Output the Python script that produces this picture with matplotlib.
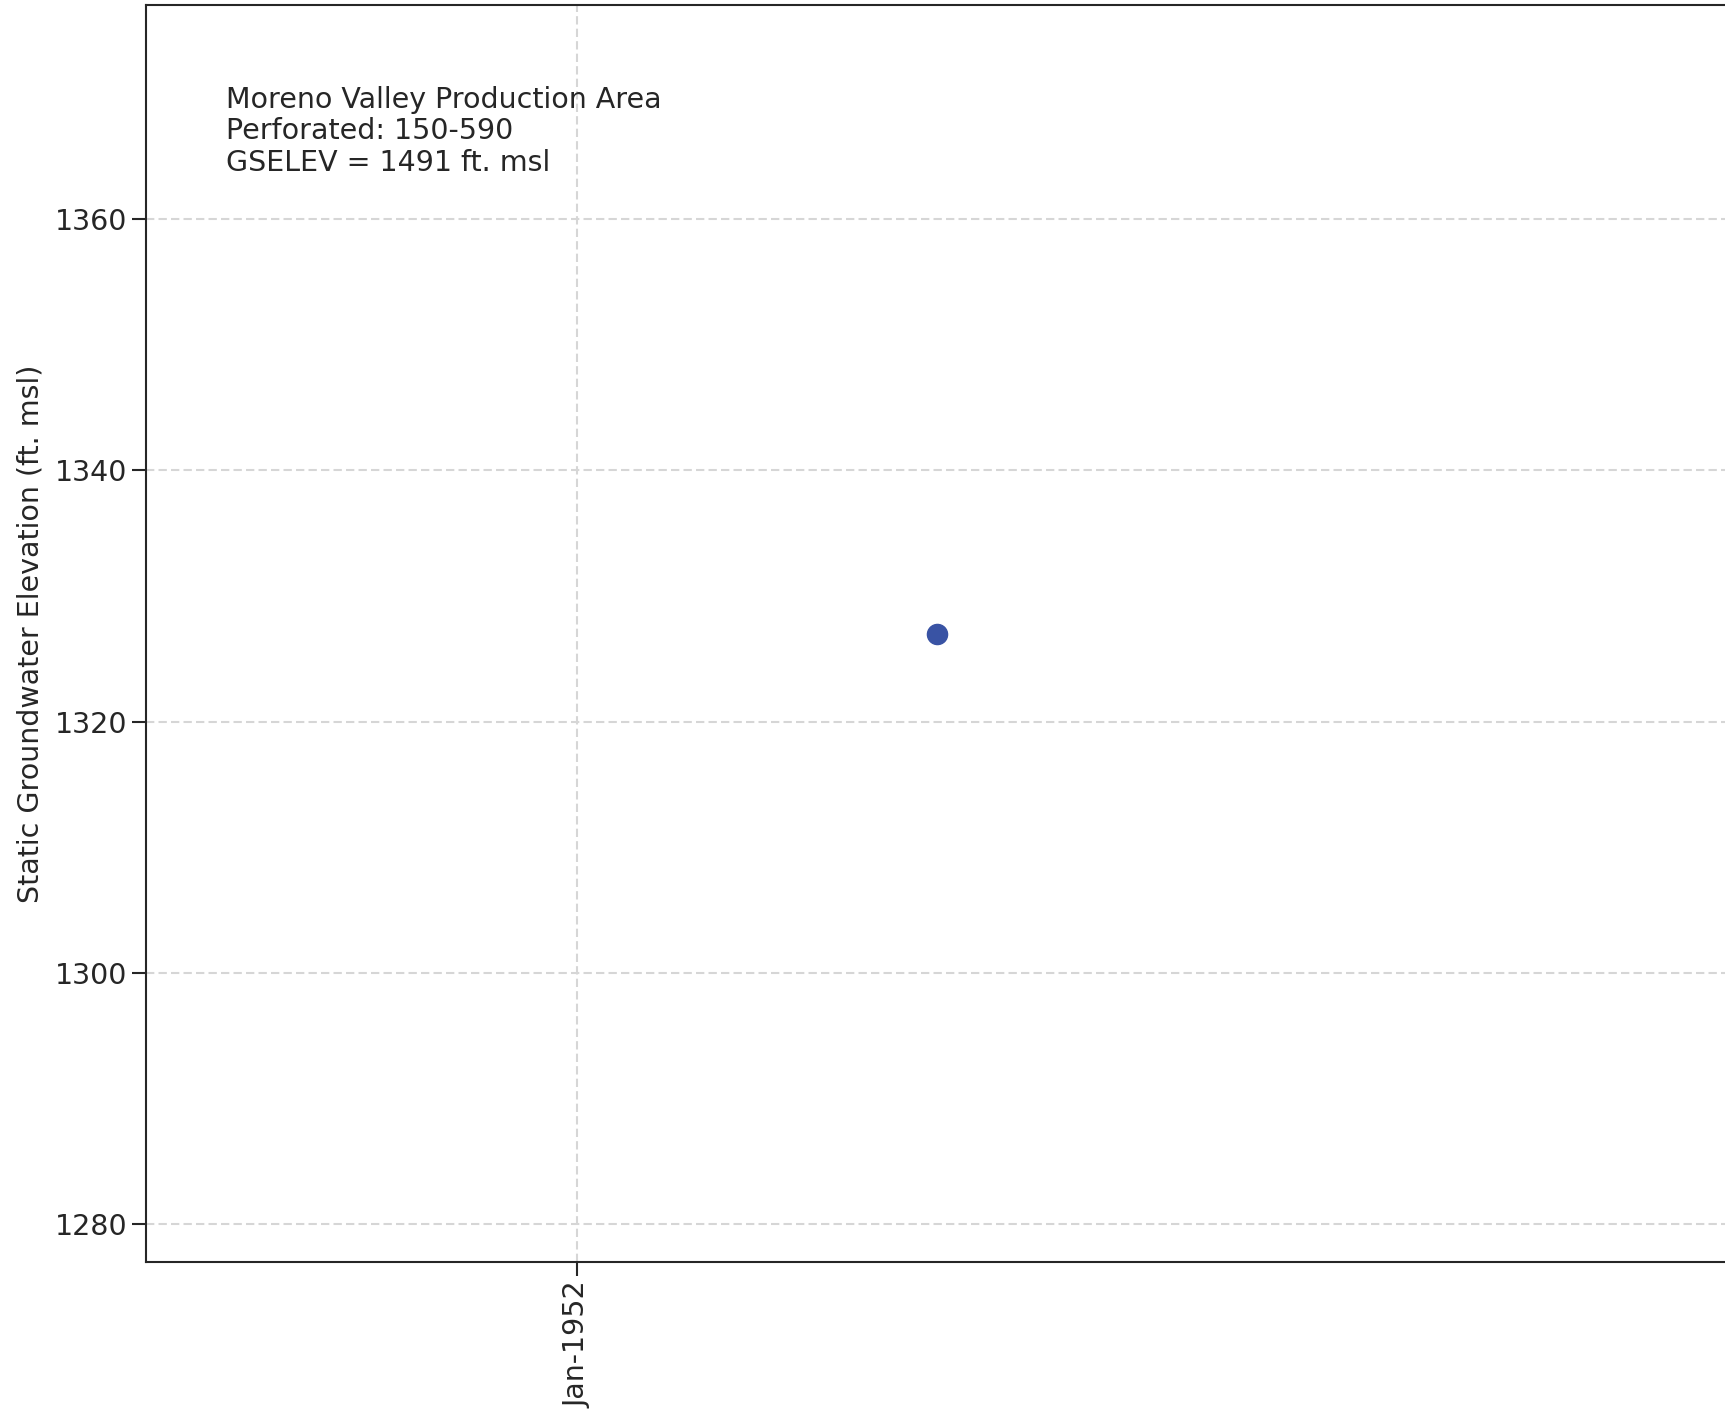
import matplotlib
matplotlib.use('Agg')
import matplotlib.pyplot as plt
import matplotlib.dates as mdates
import numpy as np
import datetime as dt

# single observation
dates = [dt.datetime(1952, 4, 15)]
elev = [1327.0]

well_info = ['Moreno Valley Production Area',
             'Perforated: 150-590',
             'GSELEV = 1491 ft. msl']

txt = '#262626'
plt.rcParams['font.family'] = 'DejaVu Sans'
plt.rcParams['text.color'] = txt
plt.rcParams['axes.labelcolor'] = txt
plt.rcParams['xtick.color'] = txt
plt.rcParams['ytick.color'] = txt

fig = plt.figure(figsize=(17.25, 14.09), dpi=100)
ax = fig.add_axes([0.0849, 0.1043, 0.9160, 0.8918])

ax.plot(dates, elev, 'o', color='#3953a4', markersize=14.5, zorder=3)

half = dt.timedelta(days=231)
ax.set_xlim(dates[0] - half, dates[0] + half)
ax.set_ylim(elev[0] - 50, elev[0] + 50)

ax.xaxis.set_major_locator(mdates.YearLocator())
ax.xaxis.set_major_formatter(mdates.DateFormatter('%b-%Y'))
ax.set_yticks(np.arange(1280, 1361, 20))
plt.setp(ax.get_xticklabels(), rotation=90)

ax.grid(True, color='#d6d6d6', linestyle=(0, (4, 2)), linewidth=1.5)
ax.set_axisbelow(True)
for s in ax.spines.values():
    s.set_linewidth(1.5)
    s.set_color('#262626')
ax.spines['right'].set_visible(False)
ax.tick_params(labelsize=20.5, length=10, width=1.5, pad=4)

ax.set_ylabel('Static Groundwater Elevation (ft. msl)', fontsize=20.5, labelpad=7)

ax.text(0.0505, 0.936, '\n'.join(well_info), transform=ax.transAxes,
        fontsize=20.5, va='top', ha='left', linespacing=1.15)

fig.savefig('out.png', dpi=100)
